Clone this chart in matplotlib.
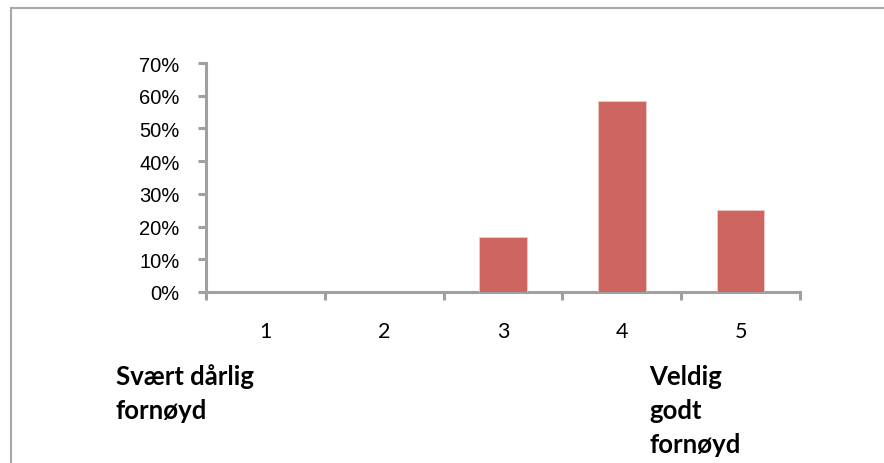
import matplotlib
matplotlib.use("Agg")
import matplotlib.pyplot as plt
from matplotlib.lines import Line2D
from matplotlib.ticker import FuncFormatter

categories = ["1", "2", "3", "4", "5"]
values = [0.0, 0.0, 16.67, 58.33, 25.0]
y_ticks = [0, 10, 20, 30, 40, 50, 60, 70]
left_label = "Svært dårlig\nfornøyd"
right_label = "Veldig\ngodt\nfornøyd"

W, H = 884, 464
fig = plt.figure(figsize=(W / 100, H / 100), dpi=100)
fig.patch.set_facecolor("white")

# axes: x from 206 to 800, y from 64 (70%) to 293 (0%)
ax = fig.add_axes([206 / W, 1 - 293 / H, (800 - 206) / W, (293 - 64) / H])
x = list(range(len(categories)))
ax.bar(x, values, width=0.4, color="#CD6560", edgecolor="#F0C8C4", linewidth=0.6, zorder=3)
ax.set_xlim(-0.5, len(categories) - 0.5)
ax.set_ylim(0, 70)
ax.set_yticks(y_ticks)
ax.yaxis.set_major_formatter(FuncFormatter(lambda v, p: f"{int(v)}%"))
ax.set_xticks([i + 0.5 for i in range(-1, len(categories))], minor=False)
ax.set_xticklabels([])
ax.set_xticks(x, minor=True)
ax.set_xticklabels(categories, minor=True, fontfamily="Lato", fontsize=15.5)
ax.tick_params(axis="x", which="minor", length=0, pad=21)
ax.tick_params(axis="x", which="major", length=6, width=2.2, color="#A0A0A0", direction="out")
ax.tick_params(axis="y", length=6, width=2.2, color="#A0A0A0", direction="out", pad=13)
for lab in ax.get_yticklabels():
    lab.set_fontfamily("Liberation Sans")
    lab.set_fontsize(14.5)
for s in ["top", "right"]:
    ax.spines[s].set_visible(False)
for s in ["left", "bottom"]:
    ax.spines[s].set_color("#A0A0A0")
    ax.spines[s].set_linewidth(2.2)
ax.set_facecolor("white")

# figure border (top and left)
fig.add_artist(Line2D([11 / W, 1], [1 - 9 / H, 1 - 9 / H], color="#A8A8A8", linewidth=1.5, transform=fig.transFigure))
fig.add_artist(Line2D([11 / W, 11 / W], [0, 1 - 9 / H], color="#A8A8A8", linewidth=1.5, transform=fig.transFigure))

def put_label(text, x_px, first_baseline_px, step_px):
    for i, line in enumerate(text.split("\n")):
        fig.text(x_px / W, 1 - (first_baseline_px + i * step_px) / H, line, fontfamily="Lato",
                 fontweight="bold", fontsize=18.5, va="baseline", ha="left")

put_label(left_label, 116, 385, 34)
put_label(right_label, 649, 385, 34)

fig.savefig("out.png", dpi=100, facecolor="white")
